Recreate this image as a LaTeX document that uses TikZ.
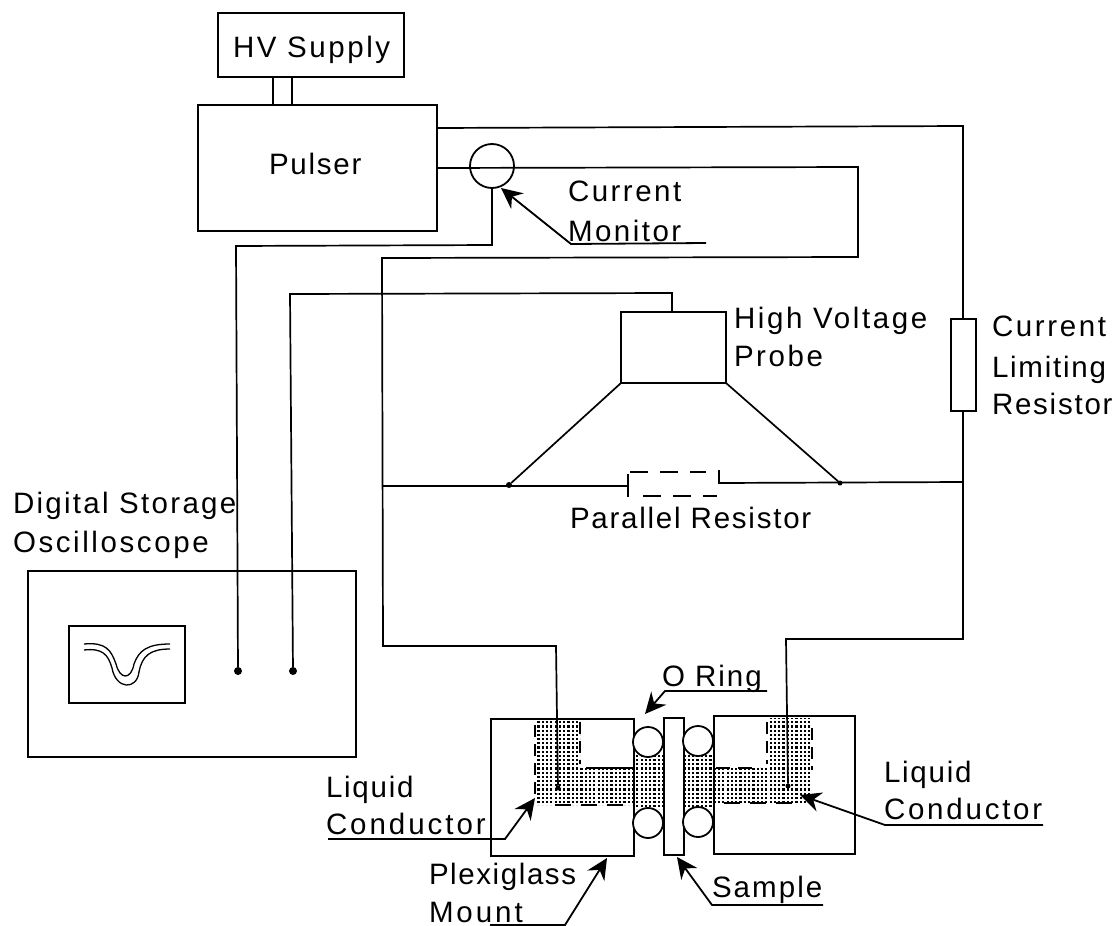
\documentclass[tikz,border=0pt]{standalone}
\usepackage{fontspec}
\setmainfont[LetterSpace=6]{Liberation Sans}
\usetikzlibrary{arrows.meta}
\tikzset{
  x=1pt,y=-1pt,
  wire/.style={line width=1.7pt,line join=miter},
  thinwire/.style={line width=1.3pt},
  boxnode/.style={draw,line width=2pt,inner sep=0pt,outer sep=0pt,rectangle},
  ringnode/.style={draw,line width=1.8pt,circle,inner sep=0pt,outer sep=0pt,minimum size=30pt,fill=white},
  dotnode/.style={fill,circle,inner sep=0pt,outer sep=0pt,minimum size=#1},
  lab/.style={anchor=base west,inner sep=0pt,outer sep=0pt,font=\fontsize{29.5}{30}\selectfont\addfontfeature{LetterSpace=#1}},
  lab/.default=6,
  pointer/.style={line width=1.8pt,-{Stealth[length=21pt,width=20pt,inset=7pt]}},
  edgedash/.style={line width=2pt,dash pattern=on 16pt off 10pt},
  sidedash/.style={line width=2pt,dash pattern=on 12pt off 7pt},
}
\newcommand{\boxat}[5]{\node[boxnode,minimum width=#4-#2,minimum height=#5-#3] (#1) at ({(#2+#4)/2},{(#3+#5)/2}) {};}
\begin{document}
\begin{tikzpicture}
\useasboundingbox (0,0) rectangle (1117,926);
\fill[white] (0,0) rectangle (1117,926);

% shaded liquid conductor
\begin{scope}
\clip (535,719) -- (580,719) -- (580,768) -- (634,768) -- (634,755) -- (664,755) -- (664,809) -- (634,809) -- (634,805) -- (535,805) -- cycle
      (767,718) -- (812,718) -- (812,803) -- (714,803) -- (714,809) -- (684,809) -- (684,755) -- (714,755) -- (714,768) -- (767,768) -- cycle;
\foreach \i in {0,...,66}{\foreach \j in {0,...,22}{
  \fill (533+4.3*\i,717+4.2*\j) rectangle ++(2.2,2.1);}}
\end{scope}

% boxes
\boxat{hv}{218}{13}{404}{77}
\boxat{pulser}{198}{105}{437}{231}
\boxat{probe}{621}{312}{726}{383}
\boxat{clr}{951}{319}{976}{411}
\boxat{scope}{28}{571}{356}{757}
\boxat{screen}{69}{626}{185}{703}
\boxat{mountL}{491}{719}{634}{856}
\boxat{mountR}{714}{716}{855}{854}
\boxat{sample}{664}{718}{684}{855}
\node[boxnode,circle,minimum size=44pt,line width=1.8pt] (cm) at (492,166) {};

% O rings
\node[ringnode] (r1) at (648,742) {};
\node[ringnode] (r2) at (648,823) {};
\node[ringnode] (r3) at (698,741) {};
\node[ringnode] (r4) at (698,822) {};

% dots
\node[dotnode=8pt] (d1) at (238,671) {};
\node[dotnode=8pt] (d2) at (293,671) {};
\node[dotnode=6pt] (j1) at (509,485) {};
\node[dotnode=5pt] (j2) at (840,483) {};
\node[dotnode=5pt] (d3) at (558,788) {};
\node[dotnode=5pt] (d4) at (788,786) {};

% junctions
\coordinate (a1) at (273,77); \coordinate (a2) at (273,105);
\coordinate (b1) at (292,77); \coordinate (b2) at (292,105);
\coordinate (t1) at (437,128); \coordinate (t2) at (963,126);
\coordinate (m1) at (437,168); \coordinate (m2) at (858,167); \coordinate (m3) at (858,257);
\coordinate (m4) at (382,258); \coordinate (m5) at (383,646); \coordinate (m6) at (556,646);
\coordinate (c2) at (492,245); \coordinate (c3) at (236,246);
\coordinate (p0) at (672,293); \coordinate (p1) at (290,294);
\coordinate (rL) at (628,486); \coordinate (rLa) at (628,474); \coordinate (rLb) at (628,497);
\coordinate (rR) at (719,483); \coordinate (rRa) at (719,470);
\coordinate (e1) at (382,486); \coordinate (e2) at (963,482);
\coordinate (g1) at (963,639); \coordinate (g2) at (786,639);

% connectors
\draw[wire] (a1) -- (a2);
\draw[wire] (b1) -- (b2);
\draw[wire] (t1) -- (t2) -- (clr.north -| t2);
\draw[wire] (clr.south -| t2) -- (g1) -- (g2) -- (d4);
\draw[wire] (m1) -- (m2) -- (m3) -- (m4) -- (m5) -- (m6) -- (d3);
\draw[wire] (cm.south) -- (c2) -- (c3) -- (d1);
\draw[wire] (probe.north -| p0) -- (p0) -- (p1) -- (d2);
\draw[wire] (e1) -- (rL);
\draw[wire] (rLa) -- (rLb);
\draw[wire] (rRa) -- (rR) -- (e2);
\draw[wire,dash pattern=on 18pt off 12pt] (rLa) ++(2,-2) -- ++(76,0);
\draw[wire,dash pattern=on 18pt off 12pt] (643,496) -- (717,496);
\draw[wire] (probe.south west) -- (j1);
\draw[wire] (probe.south east) -- (j2);

% waveform
\draw[thinwire] (84,644) .. controls (106,642) and (111,650) .. (116,664) .. controls (120,680) and (131,680) .. (134,664) .. controls (139,650) and (148,644) .. (170,644);
\draw[thinwire] (84,650) .. controls (102,648) and (108,654) .. (112,668) .. controls (116,690) and (137,690) .. (139,672) .. controls (142,656) and (150,649) .. (170,649);

% dashed liquid conductor edges
\draw[sidedash] (535,725) -- (535,800);
\draw[edgedash] (555,805) -- (625,805);
\draw[sidedash] (580,722) -- (580,764);
\draw[line width=2pt] (586,768) -- (634,768);
\draw[sidedash] (767,722) -- (767,764);
\draw[sidedash] (812,728) -- (812,770);
\draw[line width=2pt,dash pattern=on 14pt off 8pt] (716,768) -- (760,768);
\draw[edgedash] (724,803) -- (800,803);

% labels
\node[lab=8.6] (tHV) at (233,57) {HV Supply};
\node[lab] (tPul) at (269,174) {Pulser};
\node[lab=8.4] (tCur) at (568,201) {Current};
\node[lab=8.4] (tMon) at (568,241) {Monitor};
\node[lab=8.8] (tHi) at (734,328) {High Voltage};
\node[lab=8.7] (tPr) at (734,366) {Probe};
\node[lab=8.9] (tCu2) at (992,336) {Current};
\node[lab] (tLi) at (992,377) {Limiting};
\node[lab] (tRe) at (992,414) {Resistor};
\node[lab] (tPar) at (570,528) {Parallel Resistor};
\node[lab=7.8] (tDig) at (13,513) {Digital Storage};
\node[lab=8.8] (tOsc) at (13,552) {Oscilloscope};
\node[lab=6.8] (tOR) at (662,686) {O Ring};
\node[lab] (tLq1) at (326,797) {Liquid};
\node[lab=10] (tLc1) at (326,834) {Conductor};
\node[lab] (tLq2) at (884,782) {Liquid};
\node[lab=9.4] (tLc2) at (884,819) {Conductor};
\node[lab=5.4] (tPl) at (429,884) {Plexiglass};
\node[lab=10] (tMt) at (429,922) {Mount};
\node[lab=7] (tSa) at (712,897) {Sample};

% pointer targets
\coordinate (u1) at (706,243); \coordinate (u2) at (571,244); \coordinate (tip1) at (501,188);
\coordinate (u3) at (767,691); \coordinate (u4) at (665,691); \coordinate (tip2) at (645,714);
\coordinate (u5) at (328,839); \coordinate (u6) at (505,839); \coordinate (tip3) at (535,798);
\coordinate (u7) at (1043,825); \coordinate (u8) at (885,825); \coordinate (tip4) at (800,795);
\coordinate (u9) at (823,905); \coordinate (u10) at (712,905); \coordinate (tip5) at (677,857);
\coordinate (u11) at (490,925); \coordinate (u12) at (565,925); \coordinate (tip6) at (607,858);

\draw[pointer] (u1) -- (u2) -- (tip1);
\draw[pointer] (u3) -- (u4) -- (tip2);
\draw[pointer] (u5) -- (u6) -- (tip3);
\draw[pointer] (u7) -- (u8) -- (tip4);
\draw[pointer] (u9) -- (u10) -- (tip5);
\draw[pointer] (u11) -- (u12) -- (tip6);
\end{tikzpicture}
\end{document}
